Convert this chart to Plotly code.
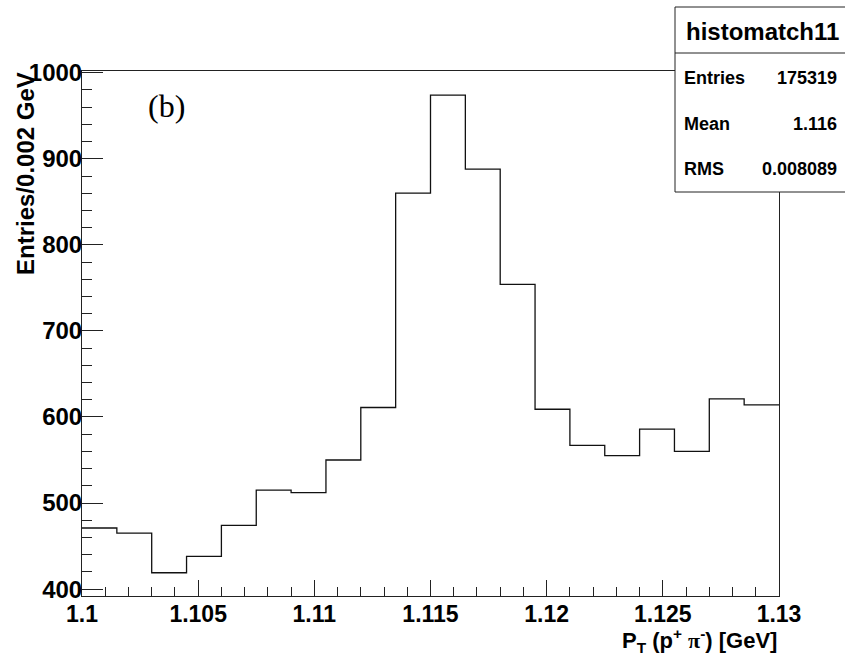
import plotly.graph_objects as go

# ---- data ----
x_start = 1.1
bin_width = 0.0015
counts = [471, 465, 419, 438, 474, 515, 512, 550, 611, 860,
          974, 888, 754, 609, 567, 555, 586, 560, 621, 614]
stats_labels = ["Entries", "Mean", "RMS"]
stats_values = ["175319", "1.116", "0.008089"]
hist_name = "histomatch11"
x_ticks = [1.1, 1.105, 1.11, 1.115, 1.12, 1.125, 1.13]
x_tick_text = ["1.1", "1.105", "1.11", "1.115", "1.12", "1.125", "1.13"]
y_ticks = [400, 500, 600, 700, 800, 900, 1000]

edges = [x_start + bin_width * i for i in range(len(counts) + 1)]
ys = counts + [counts[-1]]

W, H = 845, 657
L, R, T, B = 82, 779, 71, 596
PW, PH = R - L, B - T


def px(xp):
    return (xp - L) / PW


def py(yp):
    return (B - yp) / PH


FONT = "Liberation Sans, Arial, Helvetica, sans-serif"

fig = go.Figure()
fig.add_trace(go.Scatter(x=edges, y=ys, mode="lines", line=dict(shape="hv", color="#111", width=1.3),
                         showlegend=False, hoverinfo="skip"))

fig.update_layout(
    width=W, height=H,
    margin=dict(l=L, r=W - R, t=T, b=H - B),
    plot_bgcolor="white", paper_bgcolor="white",
    xaxis=dict(range=[1.1, 1.13], showline=True, mirror=True, linecolor="#222", linewidth=1,
               showgrid=False, zeroline=False, ticks="inside", ticklen=16, tickcolor="#222",
               tickvals=x_ticks, ticktext=x_tick_text, ticklabelstandoff=-3,
               tickfont=dict(family=FONT, size=23, color="black", weight="bold"),
               minor=dict(dtick=0.001, tick0=1.1, ticks="inside", ticklen=9, tickcolor="#222")),
    yaxis=dict(range=[392, 1002], showline=True, mirror=True, linecolor="#222", linewidth=1,
               showgrid=False, zeroline=False, ticks="inside", ticklen=21, tickcolor="#222",
               tickvals=y_ticks, ticklabelstandoff=-6,
               tickfont=dict(family=FONT, size=24, color="black", weight="bold"),
               minor=dict(dtick=20, tick0=400, ticks="inside", ticklen=10, tickcolor="#222")),
)

# stats box
fig.add_shape(type="rect", xref="paper", yref="paper", x0=px(675), x1=px(850), y0=py(192), y1=py(7),
              fillcolor="white", line=dict(color="#222", width=1), layer="above")
fig.add_shape(type="line", xref="paper", yref="paper", x0=px(675), x1=px(850), y0=py(53), y1=py(53),
              line=dict(color="#222", width=1), layer="above")
fig.add_annotation(xref="paper", yref="paper", x=px(762), y=py(31), text="<b>" + hist_name + "</b>",
                   showarrow=False, xanchor="center", yanchor="middle",
                   font=dict(family=FONT, size=24, color="black"))
row_y = [78, 124, 169]
for lab, val, yy in zip(stats_labels, stats_values, row_y):
    fig.add_annotation(xref="paper", yref="paper", x=px(682), y=py(yy), text="<b>" + lab + "</b>",
                       showarrow=False, xanchor="left", yanchor="middle",
                       font=dict(family=FONT, size=18, color="black"))
    fig.add_annotation(xref="paper", yref="paper", x=px(839), y=py(yy), text="<b>" + val + "</b>",
                       showarrow=False, xanchor="right", yanchor="middle",
                       font=dict(family=FONT, size=18, color="black"))

# axis titles
fig.add_annotation(xref="paper", yref="paper", x=px(26), y=py(174), text="<b>Entries/0.002 GeV</b>",
                   textangle=-90, showarrow=False, xanchor="center", yanchor="middle",
                   font=dict(family=FONT, size=24, color="black"))
fig.add_annotation(xref="paper", yref="paper", x=px(779), y=py(658), yanchor="bottom",
                   text="<b>P<sub>T</sub> (p<sup>+</sup> <span style=\"font-family:'Liberation Serif'\">π</span><sup>-</sup>) [GeV]</b>",
                   showarrow=False, xanchor="right",
                   font=dict(family=FONT, size=22, color="black"))
fig.add_annotation(xref="paper", yref="paper", x=px(166), y=py(106), text="(b)",
                   showarrow=False, xanchor="center", yanchor="middle",
                   font=dict(family="Liberation Serif, Times New Roman, serif", size=32, color="black"))

fig.write_html("out.html")
